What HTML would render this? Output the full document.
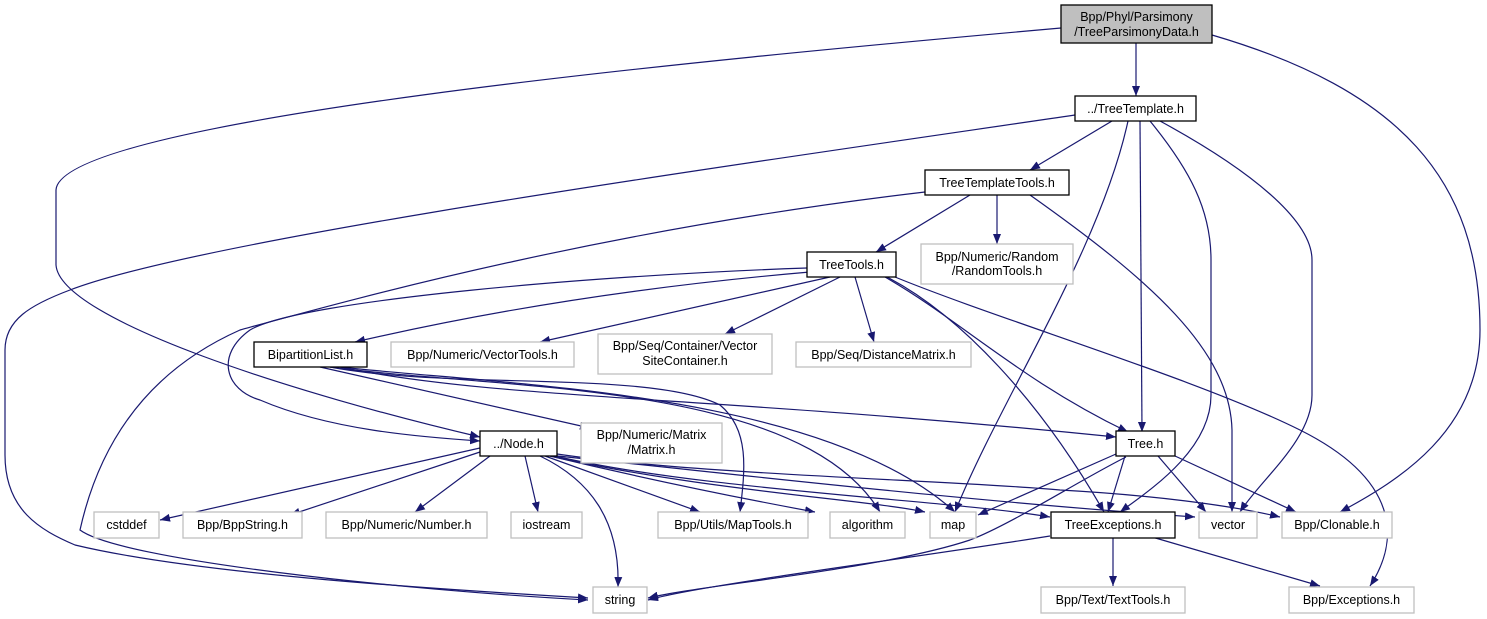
<!DOCTYPE html>
<html><head><meta charset="utf-8"><style>
html,body{margin:0;padding:0;background:#fff;}
svg{display:block;}
text{font-family:"Liberation Sans",sans-serif;font-size:12.5px;fill:#000;}
.e{fill:none;stroke:#191970;stroke-width:1.2;}
.b{fill:#fff;stroke:#000;stroke-width:1.3;}
.g{fill:#fff;stroke:#bfbfbf;stroke-width:1.3;}
</style></head><body>
<svg width="1487" height="619" viewBox="0 0 1487 619" xmlns="http://www.w3.org/2000/svg">
<defs><marker id="a" viewBox="0 0 10 8" refX="10" refY="4" markerWidth="10" markerHeight="8" markerUnits="userSpaceOnUse" orient="auto"><path d="M0,0 L10,4 L0,8 z" fill="#191970"/></marker></defs>
<g marker-end="url(#a)">
<path class="e" d="M1136,43 L1136,96"/>
<path class="e" d="M1061,28 C700,60 60,120 56,190 L56,265 C60,320 300,395 480,437"/>
<path class="e" d="M1212,35 C1400,90 1480,180 1480,330 C1480,430 1400,480 1340,512"/>
<path class="e" d="M1112,121 L1030,170"/>
<path class="e" d="M1075,115 C700,170 200,240 70,290 C30,305 5,320 5,350 L5,455 C5,510 40,530 75,545 C200,575 450,590 588,598"/>
<path class="e" d="M1128,121 C1100,250 1000,400 955,512"/>
<path class="e" d="M1140,121 L1142,432"/>
<path class="e" d="M1150,121 C1190,170 1211,210 1211,260 L1211,395 C1211,450 1150,490 1120,512"/>
<path class="e" d="M1160,121 C1250,170 1312,220 1312,260 L1312,395 C1312,440 1260,480 1240,512"/>
<path class="e" d="M970,195 L876,252"/>
<path class="e" d="M997,195 L997,244"/>
<path class="e" d="M1030,195 C1150,280 1230,350 1232,430 L1232,512"/>
<path class="e" d="M925,192 C600,230 350,300 240,330 C150,370 100,440 80,530 C120,560 400,590 588,600"/>
<path class="e" d="M807,268 C600,275 300,300 250,330 C215,355 225,390 260,400 C330,430 420,437 480,441"/>
<path class="e" d="M810,272 C600,290 450,320 355,342"/>
<path class="e" d="M830,277 L540,342"/>
<path class="e" d="M840,277 L725,334"/>
<path class="e" d="M855,277 L874,342"/>
<path class="e" d="M885,277 C960,320 1020,380 1128,432"/>
<path class="e" d="M887,277 C960,315 1040,400 1104,512"/>
<path class="e" d="M895,277 C1000,320 1200,380 1300,430 C1400,480 1400,540 1370,586"/>
<path class="e" d="M340,367 C500,400 700,395 1116,437"/>
<path class="e" d="M330,367 C450,390 650,370 720,405 C750,430 745,470 740,512"/>
<path class="e" d="M320,367 L590,428"/>
<path class="e" d="M330,367 C500,390 800,380 880,512"/>
<path class="e" d="M340,367 C500,385 820,390 955,512"/>
<path class="e" d="M480,448 L160,520"/>
<path class="e" d="M480,452 L290,515"/>
<path class="e" d="M490,456 L415,512"/>
<path class="e" d="M525,456 L538,512"/>
<path class="e" d="M540,456 C590,480 620,520 618,587"/>
<path class="e" d="M545,456 L700,512"/>
<path class="e" d="M550,456 C650,480 750,500 815,512"/>
<path class="e" d="M550,456 C700,490 870,500 925,512"/>
<path class="e" d="M555,456 C700,490 950,500 1050,517"/>
<path class="e" d="M557,456 C700,470 950,500 1195,517"/>
<path class="e" d="M557,454 C700,475 950,480 1060,490 C1150,495 1230,505 1280,517"/>
<path class="e" d="M1116,454 L978,515"/>
<path class="e" d="M1125,456 L1108,512"/>
<path class="e" d="M1126,457 C1080,480 1010,525 970,540 C880,570 700,585 648,598"/>
<path class="e" d="M1158,456 L1206,512"/>
<path class="e" d="M1175,456 L1296,512"/>
<path class="e" d="M1050,536 C900,560 700,585 648,600"/>
<path class="e" d="M1113,537 L1113,586"/>
<path class="e" d="M1152,537 L1320,586"/>
</g>
<rect x="1061" y="5" width="151" height="38" fill="#bfbfbf" stroke="#000" stroke-width="1.3"/>
<text x="1136.5" y="21" text-anchor="middle">Bpp/Phyl/Parsimony</text>
<text x="1136.5" y="36" text-anchor="middle">/TreeParsimonyData.h</text>
<rect class="b" x="1075" y="96" width="121" height="25"/><text x="1135.5" y="113" text-anchor="middle">../TreeTemplate.h</text>
<rect class="b" x="925" y="170" width="144" height="25"/><text x="997" y="187" text-anchor="middle">TreeTemplateTools.h</text>
<rect class="g" x="921" y="244" width="152" height="40"/><text x="997" y="261" text-anchor="middle">Bpp/Numeric/Random</text><text x="997" y="275" text-anchor="middle">/RandomTools.h</text>
<rect class="b" x="807" y="252" width="89" height="25"/><text x="851.5" y="269" text-anchor="middle">TreeTools.h</text>
<rect class="b" x="254" y="342" width="113" height="25"/><text x="310.5" y="359" text-anchor="middle">BipartitionList.h</text>
<rect class="g" x="391" y="342" width="183" height="25"/><text x="482.5" y="359" text-anchor="middle">Bpp/Numeric/VectorTools.h</text>
<rect class="g" x="598" y="334" width="174" height="40"/><text x="685" y="350" text-anchor="middle">Bpp/Seq/Container/Vector</text><text x="685" y="365" text-anchor="middle">SiteContainer.h</text>
<rect class="g" x="796" y="342" width="175" height="25"/><text x="883.5" y="359" text-anchor="middle">Bpp/Seq/DistanceMatrix.h</text>
<rect class="b" x="480" y="431" width="77" height="25"/><text x="518.5" y="448" text-anchor="middle">../Node.h</text>
<rect class="g" x="581" y="423" width="141" height="40"/><text x="651.5" y="439" text-anchor="middle">Bpp/Numeric/Matrix</text><text x="651.5" y="454" text-anchor="middle">/Matrix.h</text>
<rect class="b" x="1116" y="431" width="59" height="25"/><text x="1145.5" y="448" text-anchor="middle">Tree.h</text>
<rect class="g" x="94" y="512" width="65" height="26"/><text x="126.5" y="529" text-anchor="middle">cstddef</text>
<rect class="g" x="183" y="512" width="119" height="26"/><text x="242.5" y="529" text-anchor="middle">Bpp/BppString.h</text>
<rect class="g" x="326" y="512" width="161" height="26"/><text x="406.5" y="529" text-anchor="middle">Bpp/Numeric/Number.h</text>
<rect class="g" x="511" y="512" width="71" height="26"/><text x="546.5" y="529" text-anchor="middle">iostream</text>
<rect class="g" x="658" y="512" width="150" height="26"/><text x="733" y="529" text-anchor="middle">Bpp/Utils/MapTools.h</text>
<rect class="g" x="830" y="512" width="75" height="26"/><text x="867.5" y="529" text-anchor="middle">algorithm</text>
<rect class="g" x="930" y="512" width="46" height="26"/><text x="953" y="529" text-anchor="middle">map</text>
<rect class="b" x="1051" y="512" width="124" height="26"/><text x="1113" y="529" text-anchor="middle">TreeExceptions.h</text>
<rect class="g" x="1199" y="512" width="58" height="26"/><text x="1228" y="529" text-anchor="middle">vector</text>
<rect class="g" x="1282" y="512" width="110" height="26"/><text x="1337" y="529" text-anchor="middle">Bpp/Clonable.h</text>
<rect class="g" x="593" y="587" width="54" height="26"/><text x="620" y="604" text-anchor="middle">string</text>
<rect class="g" x="1041" y="587" width="144" height="26"/><text x="1113" y="604" text-anchor="middle">Bpp/Text/TextTools.h</text>
<rect class="g" x="1289" y="587" width="125" height="26"/><text x="1351.5" y="604" text-anchor="middle">Bpp/Exceptions.h</text>
</svg>
</body></html>
